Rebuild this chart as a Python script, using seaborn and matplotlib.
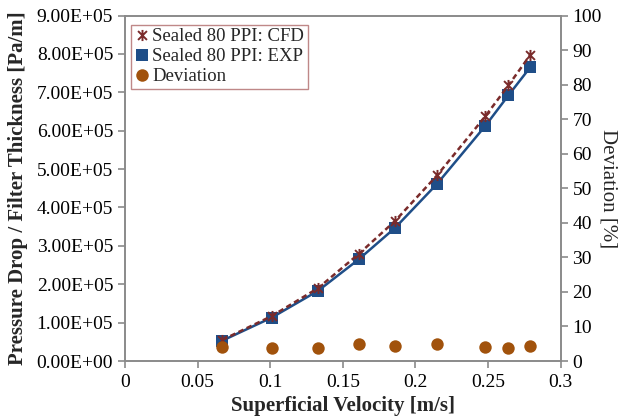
import numpy as np
import pandas as pd
import seaborn as sns
import matplotlib
matplotlib.use("Agg")
import matplotlib.pyplot as plt
from matplotlib.path import Path
from matplotlib.lines import Line2D

# Measured data: superficial velocity vs. pressure gradient
velocity = [0.067, 0.101, 0.133, 0.161, 0.186, 0.215, 0.248, 0.264, 0.279]
dp_cfd = [55000, 117000, 190000, 279000, 365000, 484000, 637000, 718000, 797000]
dp_exp = [53000, 113000, 183000, 265000, 347000, 462000, 612000, 692000, 765000]
deviation = [4.1, 3.7, 3.9, 4.8, 4.4, 4.8, 4.0, 3.8, 4.2]

x_ticks = [0, 0.05, 0.1, 0.15, 0.2, 0.25, 0.3]
x_tick_labels = ["0", "0.05", "0.1", "0.15", "0.2", "0.25", "0.3"]
y_ticks = [i * 1e5 for i in range(10)]
y_tick_labels = [f"{i}.00E+0{5 if i else 0}" for i in range(10)]
y2_ticks = list(range(0, 101, 10))

df = pd.DataFrame({"v": velocity, "cfd": dp_cfd, "exp": dp_exp, "dev": deviation})

sns.set_theme(style="white")
plt.rcParams["font.family"] = ["Liberation Serif", "DejaVu Serif"]

c_cfd = "#7A2B2B"
c_exp = "#1F4E88"
c_dev = "#A1520C"
c_axis = "#8A8A8A"

# Excel-style star marker: an X with a vertical bar
star = Path([(-1, -1), (1, 1), (-1, 1), (1, -1), (0, -1.25), (0, 1.25)],
            [Path.MOVETO, Path.LINETO, Path.MOVETO, Path.LINETO, Path.MOVETO, Path.LINETO])

fig = plt.figure(figsize=(6.23, 4.19), dpi=100)
ax = fig.add_axes([0.2006, 0.1384, 0.6994, 0.8246])

sns.lineplot(data=df, x="v", y="exp", ax=ax, color=c_exp, lw=1.8,
             marker="s", markersize=9, markeredgewidth=0, zorder=3)
sns.lineplot(data=df, x="v", y="cfd", ax=ax, color=c_cfd, lw=1.8,
             linestyle=(0, (2.2, 1.4)), marker=star, markersize=8,
             markeredgewidth=1.4, markeredgecolor=c_cfd, markerfacecolor="none", zorder=4)

ax.set_xlim(0, 0.3)
ax.set_ylim(0, 9e5)
ax.set_xticks(x_ticks)
ax.set_xticklabels(x_tick_labels)
ax.set_yticks(y_ticks)
ax.set_yticklabels(y_tick_labels)
ax.set_xlabel("Superficial Velocity [m/s]", fontsize=15, fontweight="bold", labelpad=4)
ax.set_ylabel("Pressure Drop / Filter Thickness [Pa/m]", fontsize=15, fontweight="bold", labelpad=6)

ax2 = ax.twinx()
sns.scatterplot(data=df, x="v", y="dev", ax=ax2, color=c_dev, s=80, linewidth=0, zorder=5)
ax2.set_ylim(0, 100)
ax2.set_yticks(y2_ticks)
ax2.set_ylabel("Deviation [%]", fontsize=15, rotation=-90, va="center", ha="center")
ax2.yaxis.set_label_coords(1.108, 0.5)

for a in (ax, ax2):
    for side in ("left", "right", "top", "bottom"):
        a.spines[side].set_color(c_axis)
        a.spines[side].set_linewidth(1.2)
    a.tick_params(colors=c_axis, labelcolor="black", labelsize=14, length=5, width=1.2, direction="out")

ax.tick_params(axis="x", bottom=True, pad=4)
ax.tick_params(axis="y", left=True)
ax2.tick_params(axis="y", right=True)

handles = [
    Line2D([], [], linestyle="none", marker=star, markersize=8, markeredgewidth=1.4,
           markeredgecolor=c_cfd, markerfacecolor="none"),
    Line2D([], [], linestyle="none", marker="s", markersize=9, markeredgewidth=0, color=c_exp),
    Line2D([], [], linestyle="none", marker="o", markersize=9, markeredgewidth=0, color=c_dev),
]
labels = ["Sealed 80 PPI: CFD", "Sealed 80 PPI: EXP", "Deviation"]
leg = ax2.legend(handles, labels, loc="upper left", bbox_to_anchor=(0.0, 0.99),
                 fontsize=13.5, frameon=True, fancybox=False, handlelength=0.8,
                 handletextpad=0.15, borderpad=0.2, labelspacing=0.15, borderaxespad=0.3)
leg.get_frame().set_edgecolor("#B06A6A")
leg.get_frame().set_linewidth(1.0)

fig.savefig("out.png", dpi=100)
